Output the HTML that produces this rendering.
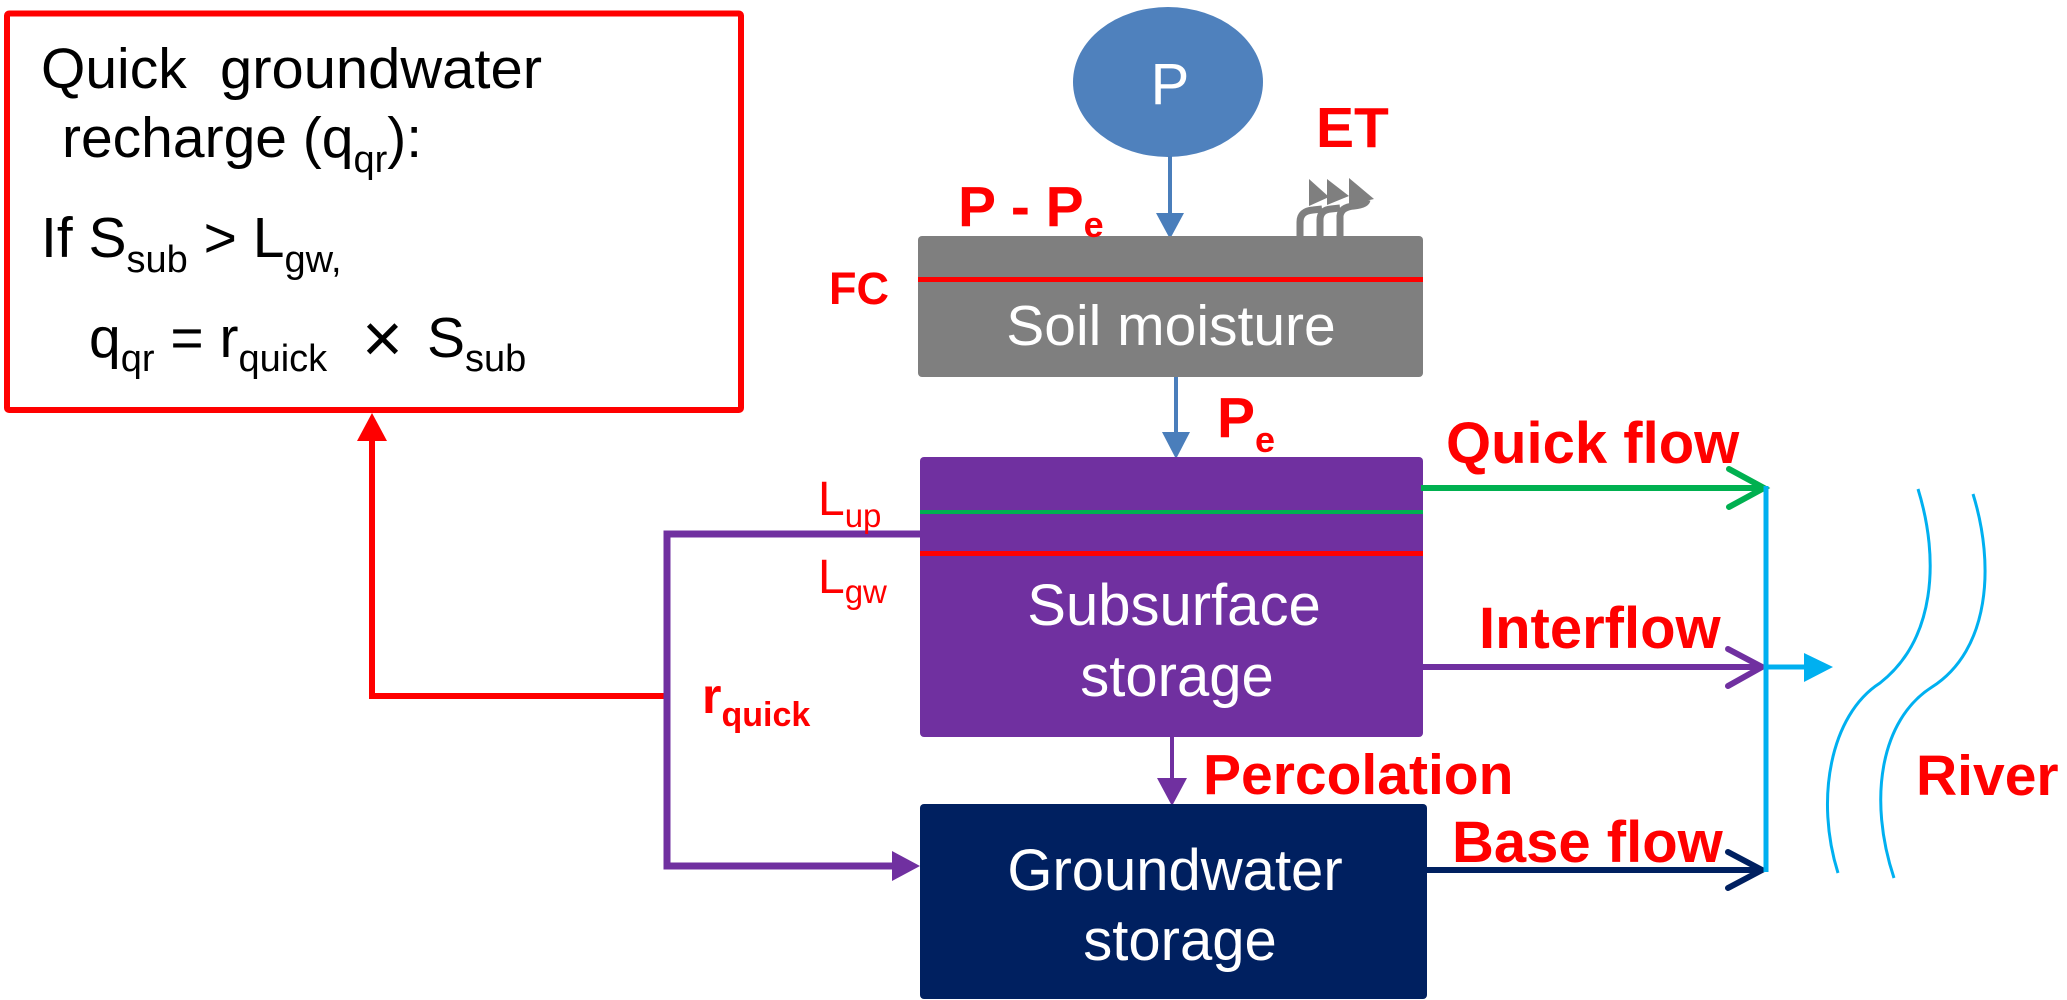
<!DOCTYPE html>
<html>
<head>
<meta charset="utf-8">
<style>
html,body{margin:0;padding:0;background:#fff;overflow:hidden;}
svg{display:block;}
text{font-family:"Liberation Sans",Arial,sans-serif;}
.b{font-weight:bold;}
</style>
</head>
<body>
<svg width="2067" height="1000" viewBox="0 0 2067 1000" xmlns="http://www.w3.org/2000/svg">
  <!-- Red info box -->
  <rect x="7" y="13.5" width="734" height="396.5" fill="none" stroke="#FF0000" stroke-width="6" rx="2"/>
  <text x="41" y="88" font-size="57" fill="#000">Quick</text>
  <text x="220" y="88" font-size="57" fill="#000" textLength="322" lengthAdjust="spacingAndGlyphs">groundwater</text>
  <text x="62" y="157" font-size="57" fill="#000">recharge (q<tspan font-size="38" dy="15">qr</tspan><tspan dy="-15">):</tspan></text>
  <text x="41" y="257" font-size="57" fill="#000">If S<tspan font-size="38" dy="15">sub</tspan><tspan dy="-15"> &gt; L</tspan><tspan font-size="38" dy="15">gw,</tspan></text>
  <text x="89" y="357" font-size="57" fill="#000">q<tspan font-size="38" dy="14">qr</tspan><tspan dy="-14"> = r</tspan><tspan font-size="38" dy="14">quick</tspan></text>
  <text x="362" y="362" font-size="70" fill="#000">×</text>
  <text x="427" y="357" font-size="57" fill="#000">S<tspan font-size="38" dy="14">sub</tspan></text>

  <!-- Red connector up to box -->
  <polyline points="666,696 372,696 372,438" fill="none" stroke="#FF0000" stroke-width="6"/>
  <polygon points="357,441 387,441 372,413" fill="#FF0000"/>

  <!-- Purple connector -->
  <polyline points="920,534 667,534 667,866 894,866" fill="none" stroke="#7030A0" stroke-width="7"/>
  <polygon points="892,851 892,881 920,866" fill="#7030A0"/>

  <!-- P ellipse -->
  <ellipse cx="1168" cy="82" rx="95" ry="75" fill="#4F81BD"/>
  <text x="1170" y="104" font-size="58" fill="#fff" text-anchor="middle">P</text>
  <line x1="1170" y1="156" x2="1170" y2="215" stroke="#4A7EBB" stroke-width="4"/>
  <polygon points="1156,213 1184,213 1170,239" fill="#4A7EBB"/>

  <!-- Soil moisture -->
  <rect x="918" y="236" width="505" height="141" rx="4" fill="#7F7F7F"/>
  <rect x="918" y="277" width="505" height="5" fill="#FF0000"/>
  <text x="1171" y="345" font-size="57" fill="#fff" text-anchor="middle">Soil moisture</text>

  <!-- ET icon -->
  <g fill="none" stroke="#7F7F7F" stroke-width="7">
    <path d="M1300,238 V222 Q1300,211 1313,210 L1322,209"/>
    <path d="M1320,238 V220 Q1320,210 1331,209 L1340,208"/>
    <path d="M1340,238 V216 Q1341,207 1354,206 Q1366,205 1367,200"/>
  </g>
  <g fill="#7F7F7F">
    <polygon points="1309,179 1309,206 1329,197"/>
    <polygon points="1327,179 1327,205 1349,196"/>
    <polygon points="1349,178 1349,205 1374,199"/>
  </g>

  <!-- labels top -->
  <text x="958" y="226" font-size="57" fill="#FF0000" class="b">P - P<tspan font-size="36" dy="11">e</tspan></text>
  <text x="1316" y="147" font-size="57" fill="#FF0000" class="b">ET</text>
  <text x="829" y="304" font-size="45" fill="#FF0000" class="b">FC</text>

  <!-- Pe arrow -->
  <line x1="1176" y1="377" x2="1176" y2="434" stroke="#4A7EBB" stroke-width="4"/>
  <polygon points="1162,432 1190,432 1176,459" fill="#4A7EBB"/>
  <text x="1217" y="437" font-size="57" fill="#FF0000" class="b">P<tspan font-size="36" dy="15">e</tspan></text>

  <!-- Subsurface storage -->
  <rect x="920" y="457" width="503" height="280" rx="4" fill="#7030A0"/>
  <rect x="920" y="510" width="503" height="4" fill="#00B050"/>
  <rect x="920" y="551" width="503" height="5" fill="#FF0000"/>
  <text x="1174" y="625" font-size="58" fill="#fff" text-anchor="middle">Subsurface</text>
  <text x="1177" y="696" font-size="58" fill="#fff" text-anchor="middle">storage</text>

  <text x="818" y="515" font-size="48" fill="#FF0000">L<tspan font-size="33" dy="12">up</tspan></text>
  <text x="818" y="593" font-size="48" fill="#FF0000">L<tspan font-size="33" dy="10">gw</tspan></text>
  <text x="702" y="713" font-size="50" fill="#FF0000" class="b">r<tspan font-size="34" dy="13">quick</tspan></text>

  <!-- Percolation -->
  <line x1="1172" y1="737" x2="1172" y2="780" stroke="#7030A0" stroke-width="4"/>
  <polygon points="1157,778 1187,778 1172,806" fill="#7030A0"/>
  <text x="1203" y="794" font-size="57" fill="#FF0000" class="b">Percolation</text>

  <!-- Groundwater storage -->
  <rect x="920" y="804" width="507" height="195" rx="4" fill="#002060"/>
  <text x="1175" y="890" font-size="58" fill="#fff" text-anchor="middle">Groundwater</text>
  <text x="1180" y="960" font-size="58" fill="#fff" text-anchor="middle">storage</text>

  <!-- Flow arrows -->
  <line x1="1421" y1="488" x2="1763" y2="488" stroke="#00B050" stroke-width="6"/>
  <polyline points="1729,469 1764,488 1729,507" fill="none" stroke="#00B050" stroke-width="6" stroke-linecap="round"/>
  <line x1="1421" y1="667" x2="1761" y2="667" stroke="#7030A0" stroke-width="6"/>
  <polyline points="1728,649 1762,667 1728,686" fill="none" stroke="#7030A0" stroke-width="6" stroke-linecap="round"/>
  <line x1="1425" y1="870" x2="1761" y2="870" stroke="#002060" stroke-width="6"/>
  <polyline points="1728,852 1762,870 1728,888" fill="none" stroke="#002060" stroke-width="6" stroke-linecap="round"/>
  <line x1="1766" y1="486" x2="1766" y2="872" stroke="#00B0F0" stroke-width="5"/>
  <line x1="1766" y1="667" x2="1806" y2="667" stroke="#00B0F0" stroke-width="5"/>
  <polygon points="1804,653 1804,682 1833,667" fill="#00B0F0"/>

  <text x="1446" y="463" font-size="58" fill="#FF0000" class="b">Quick flow</text>
  <text x="1479" y="648" font-size="58" fill="#FF0000" class="b">Interflow</text>
  <text x="1452" y="862" font-size="58" fill="#FF0000" class="b">Base flow</text>

  <!-- River -->
  <path d="M1918,489 C1940,560 1935,640 1880,683 C1830,715 1815,800 1838,873" fill="none" stroke="#00B0F0" stroke-width="3"/>
  <path d="M1973,494 C1995,565 1990,650 1932,687 C1880,720 1868,800 1894,878" fill="none" stroke="#00B0F0" stroke-width="3"/>
  <text x="1916" y="795" font-size="57" fill="#FF0000" class="b">River</text>
</svg>
</body>
</html>
